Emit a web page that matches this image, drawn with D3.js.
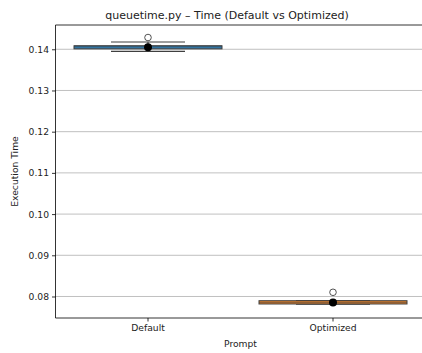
<!DOCTYPE html>
<html>
<head>
<meta charset="utf-8">
<script src="https://cdn.jsdelivr.net/npm/d3@7/dist/d3.min.js"></script>
<style>
  html, body { margin: 0; padding: 0; background: #fff; overflow: hidden; }
  svg { display: block; font-family: "DejaVu Sans", sans-serif; }
</style>
</head>
<body>
<svg id="chart" width="422" height="353"></svg>
<script>
// Execution time summaries per prompt variant
const categories = ["Default", "Optimized"];
const whiskerLow  = [0.13950, 0.07813];
const q1          = [0.14010, 0.07818];
const median      = [0.14080, 0.07858];
const q3          = [0.14085, 0.07898];
const whiskerHigh = [0.14177, 0.07902];
const means       = [0.14048, 0.07855];
const outliers    = [[0.14285], [0.08102]];
const boxColors   = ["#3274a1", "#e1812c"];
const yTicks      = [0.08, 0.09, 0.10, 0.11, 0.12, 0.13, 0.14];

const svg = d3.select("#chart");
const plot = { left: 55.5, right: 425.5, top: 25, bottom: 318 };

const x = d3.scaleBand().domain(categories).range([plot.left, plot.right]).padding(0);
const y = d3.scaleLinear().domain([0.07478, 0.14589]).range([plot.bottom, plot.top]);
const cx = c => x(c) + x.bandwidth() / 2;
const edge = "#3f3f3f";

// horizontal grid
svg.append("g")
  .selectAll("line").data(yTicks).join("line")
  .attr("x1", plot.left).attr("x2", 422)
  .attr("y1", d => y(d)).attr("y2", d => y(d))
  .attr("stroke", "#b0b0b0").attr("stroke-width", 0.8);

// box plots
const boxes = svg.append("g");
categories.forEach((c, i) => {
  const g = boxes.append("g");
  const bw = x.bandwidth() * 0.8;
  const cw = bw / 2;
  // whiskers
  g.append("line").attr("x1", cx(c)).attr("x2", cx(c))
    .attr("y1", y(q3[i])).attr("y2", y(whiskerHigh[i]))
    .attr("stroke", edge).attr("stroke-width", 1.2);
  g.append("line").attr("x1", cx(c)).attr("x2", cx(c))
    .attr("y1", y(q1[i])).attr("y2", y(whiskerLow[i]))
    .attr("stroke", edge).attr("stroke-width", 1.2);
  // caps
  [whiskerLow[i], whiskerHigh[i]].forEach(v => {
    g.append("line").attr("x1", cx(c) - cw / 2).attr("x2", cx(c) + cw / 2)
      .attr("y1", y(v)).attr("y2", y(v))
      .attr("stroke", edge).attr("stroke-width", 1.2);
  });
  // box
  g.append("rect")
    .attr("x", cx(c) - bw / 2).attr("width", bw)
    .attr("y", y(q3[i])).attr("height", Math.max(0.5, y(q1[i]) - y(q3[i])))
    .attr("fill", boxColors[i]).attr("stroke", edge).attr("stroke-width", 1.0);
  // median
  g.append("line").attr("x1", cx(c) - bw / 2).attr("x2", cx(c) + bw / 2)
    .attr("y1", y(median[i])).attr("y2", y(median[i]))
    .attr("stroke", edge).attr("stroke-width", 0.6);
  // outliers
  g.selectAll("circle.flier").data(outliers[i]).join("circle")
    .attr("class", "flier")
    .attr("cx", cx(c)).attr("cy", d => y(d)).attr("r", 3.3)
    .attr("fill", "none").attr("stroke", edge).attr("stroke-width", 0.9);
  // mean marker
  g.append("circle").attr("cx", cx(c)).attr("cy", y(means[i])).attr("r", 4)
    .attr("fill", "#000");
});

// axes
const yAxis = svg.append("g").attr("transform", `translate(${plot.left},0)`)
  .call(d3.axisLeft(y).tickValues(yTicks).tickFormat(d3.format(".2f")).tickSize(3.5).tickPadding(3));
const xAxis = svg.append("g").attr("transform", `translate(0,${plot.bottom})`)
  .call(d3.axisBottom(x).tickSize(3.5).tickPadding(3));
[yAxis, xAxis].forEach(a => {
  a.select(".domain").remove();
  a.selectAll("line").attr("stroke", "#000").attr("stroke-width", 0.8);
  a.selectAll("text").attr("fill", "#222").style("font-size", "9.2px")
    .style("font-family", "'DejaVu Sans', sans-serif");
});

// spines (the right one falls past the page edge)
const spine = (x1, y1, x2, y2) => svg.append("line")
  .attr("x1", x1).attr("y1", y1).attr("x2", x2).attr("y2", y2)
  .attr("stroke", "#000").attr("stroke-width", 0.8);
spine(plot.left, plot.top, plot.left, plot.bottom);
spine(plot.left, plot.bottom, 422, plot.bottom);
spine(plot.left, plot.top, 422, plot.top);

// labels
svg.append("text").attr("x", 227).attr("y", 19)
  .attr("text-anchor", "middle").attr("fill", "#222")
  .style("font-size", "11px").text("queuetime.py – Time (Default vs Optimized)");
svg.append("text").attr("x", (plot.left + plot.right) / 2).attr("y", 347)
  .attr("text-anchor", "middle").attr("fill", "#222")
  .style("font-size", "9.2px").text("Prompt");
svg.append("text")
  .attr("transform", `translate(18,${(plot.top + plot.bottom) / 2}) rotate(-90)`)
  .attr("text-anchor", "middle").attr("fill", "#222")
  .style("font-size", "9.2px").text("Execution Time");
</script>
</body>
</html>
